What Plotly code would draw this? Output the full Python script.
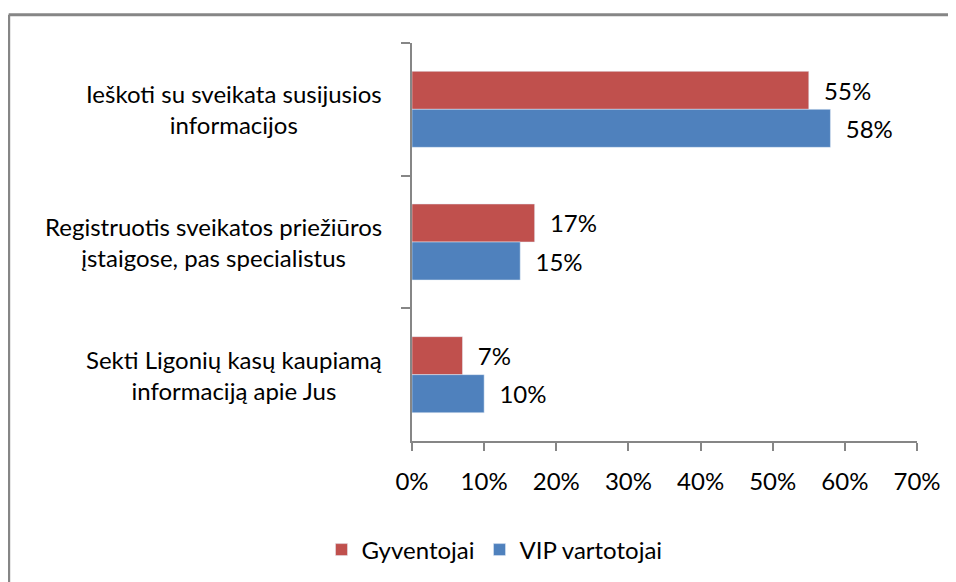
import plotly.graph_objects as go

# Duomenys
categories = [
    "Ieškoti su sveikata susijusios<br>informacijos",
    "Registruotis sveikatos priežiūros<br>įstaigose, pas specialistus",
    "Sekti Ligonių kasų kaupiamą<br>informaciją apie Jus",
]
gyventojai = [55, 17, 7]
vip_vartotojai = [58, 15, 10]
x_ticks = [0, 10, 20, 30, 40, 50, 60, 70]

RED = "#C0504D"
BLUE = "#4F81BD"
GRAY = "#868686"
FONT = "Lato, 'Open Sans', sans-serif"
FS = 24

W, H = 956, 582
OFF = 8  # puslapio body paraštė
L, R, T, B = 412 - OFF, 39 + OFF, 43 - OFF, 141 + OFF
PAD = "\u00a0\u00a0"

fig = go.Figure()

fig.add_trace(go.Bar(
    y=categories, x=gyventojai, orientation="h", name="Gyventojai",
    marker_color=RED, text=[f"{PAD}{v}%" for v in gyventojai],
    textposition="outside", cliponaxis=False,
    textfont=dict(color="#000000", size=FS, family=FONT),
))
fig.add_trace(go.Bar(
    y=categories, x=vip_vartotojai, orientation="h", name="VIP vartotojai",
    marker_color=BLUE, text=[f"{PAD}{v}%" for v in vip_vartotojai],
    textposition="outside", cliponaxis=False,
    textfont=dict(color="#000000", size=FS, family=FONT),
))

# Kategorijų pavadinimai (centruoti, kaip Excel)
for c in categories:
    fig.add_annotation(
        x=0, xref="paper", xanchor="right", xshift=-28,
        y=c, yref="y", yanchor="middle",
        text=c, align="center", showarrow=False,
        font=dict(size=FS, family=FONT, color="#000000"),
    )

# Rėmelis (dešinė ir apačia nukirpti)
pw, ph = W - L - R, H - T - B
bx = (8.7 - OFF - L) / pw
by = 1 + (T - (14.7 - OFF)) / ph
fig.add_shape(type="line", xref="paper", yref="paper",
              x0=bx, x1=bx, y0=-1, y1=by, line=dict(color=GRAY, width=3))
fig.add_shape(type="line", xref="paper", yref="paper",
              x0=bx, x1=1.5, y0=by, y1=by, line=dict(color=GRAY, width=3))

fig.update_layout(
    width=W, height=H,
    margin=dict(l=L, r=R, t=T, b=B),
    barmode="group", bargap=0.427, bargroupgap=0,
    paper_bgcolor="white", plot_bgcolor="white",
    font=dict(family=FONT, size=FS, color="#000000"),
    showlegend=True,
    legend=dict(
        orientation="h", x=(494.5 - OFF - L) / pw, xanchor="center",
        y=(T + ph - (550 - OFF)) / ph, yanchor="middle",
        font=dict(size=FS, family=FONT), traceorder="normal",
    ),
    xaxis=dict(
        range=[0, 70], tickvals=x_ticks,
        ticktext=[f"{v}%" for v in x_ticks],
        showgrid=False, zeroline=False,
        showline=True, linecolor=GRAY, linewidth=1.5,
        ticks="outside", ticklen=8, tickcolor=GRAY, tickwidth=1.5,
        ticklabelstandoff=10,
        tickfont=dict(size=FS, family=FONT, color="#000000"),
    ),
    yaxis=dict(
        autorange="reversed", showgrid=False, zeroline=False,
        showline=True, linecolor=GRAY, linewidth=1.5,
        ticks="outside", ticklen=9, tickcolor=GRAY, tickwidth=1.5,
        tickson="boundaries", showticklabels=False,
    ),
)

fig.write_html("out.html")
